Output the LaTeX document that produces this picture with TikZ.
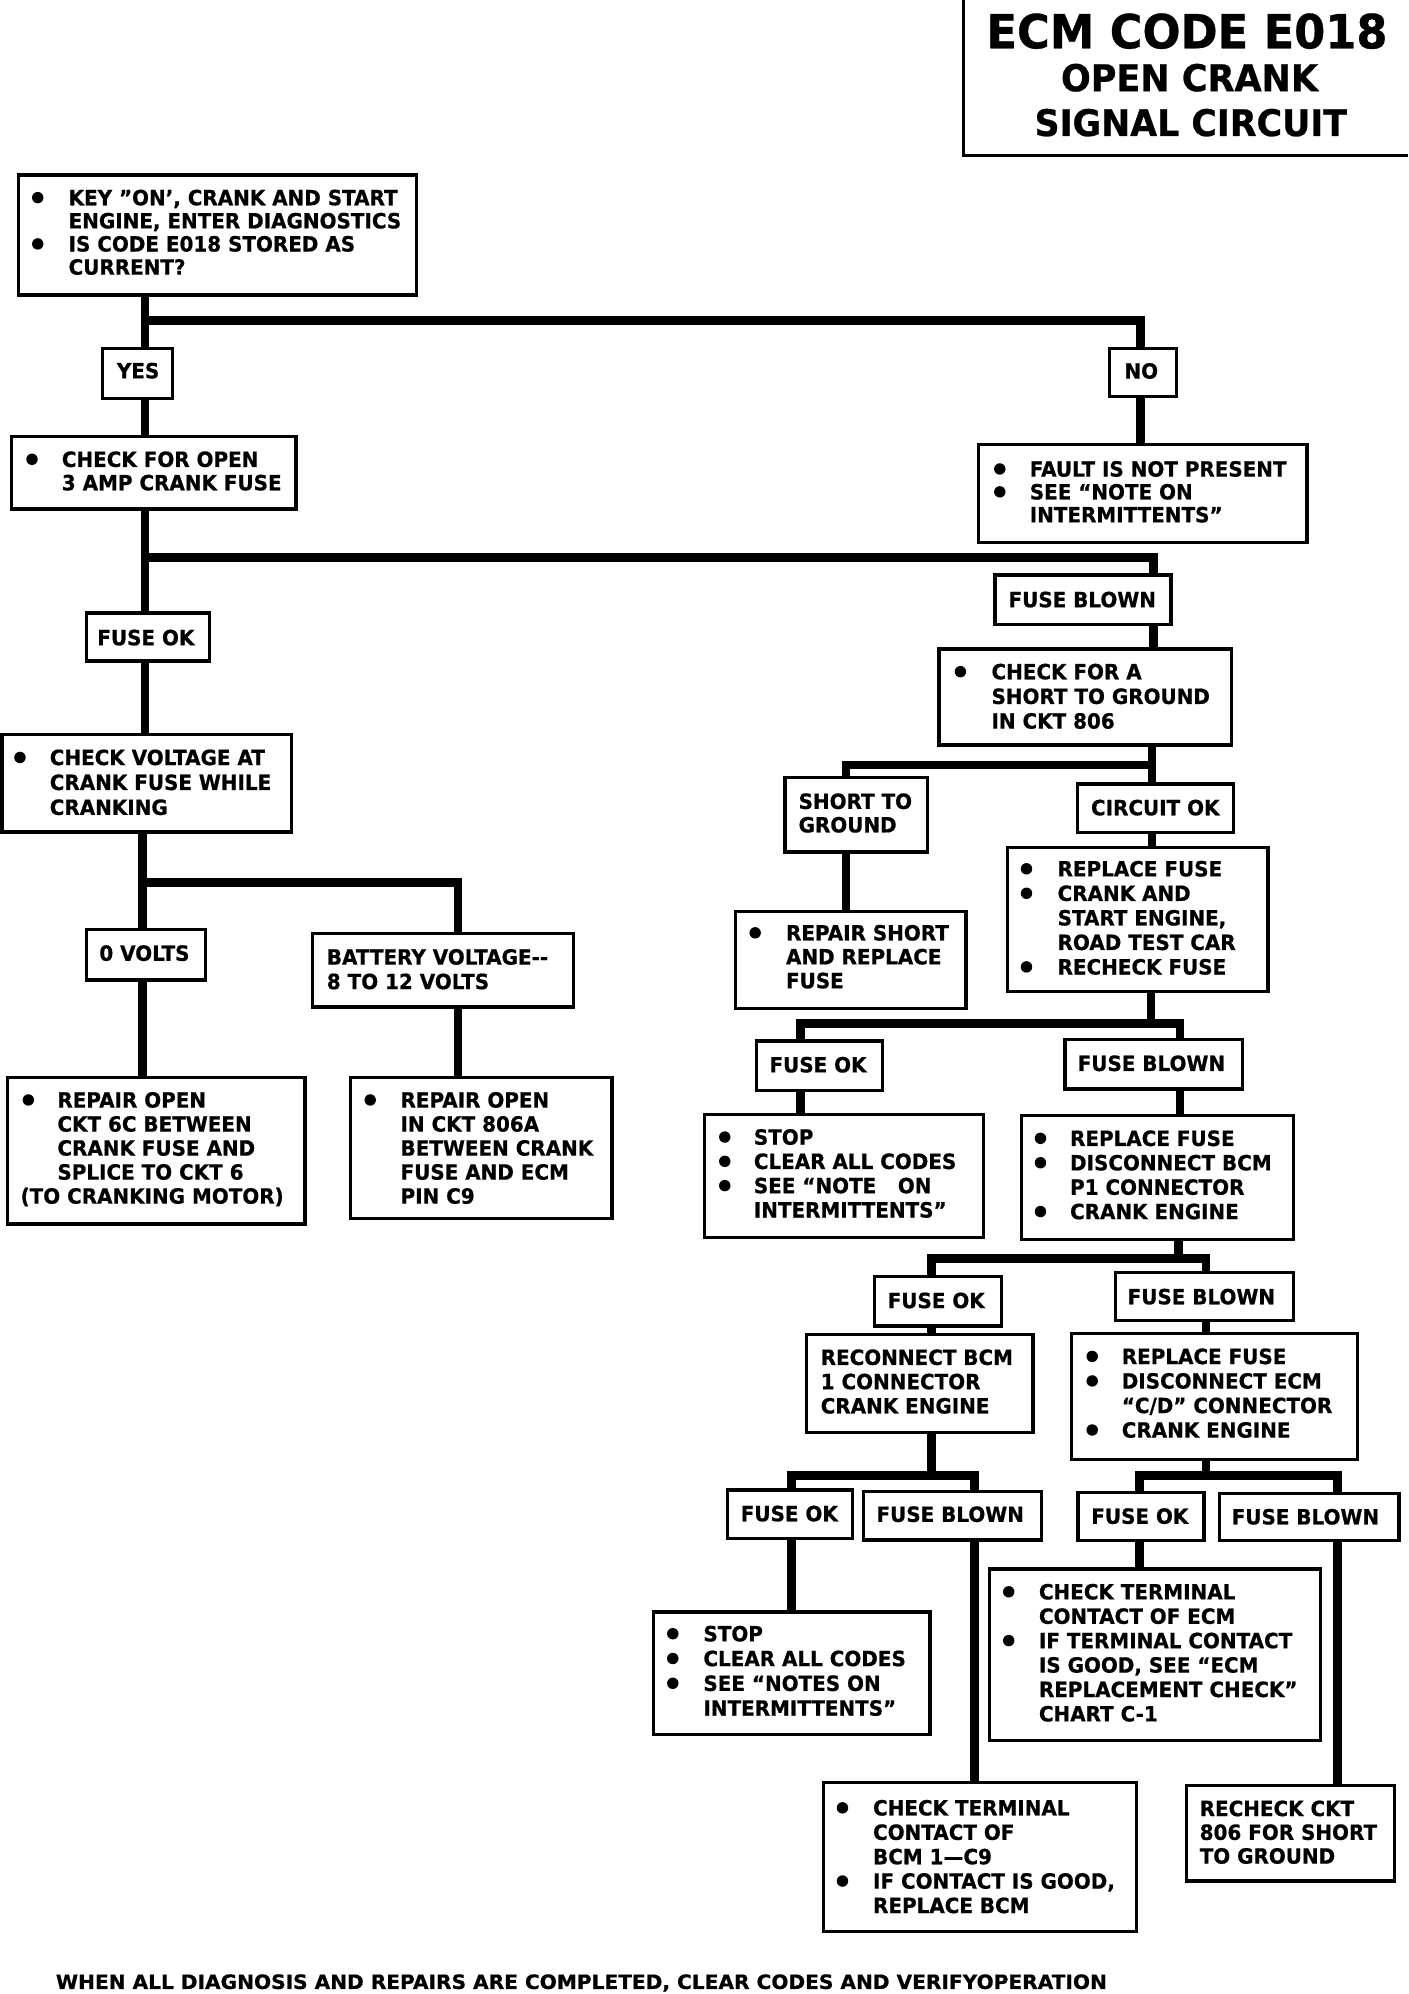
\documentclass[tikz,border=0pt]{standalone}
\usepackage{fontspec}
\usepackage{graphicx}
\setmainfont{DejaVu Sans}[FakeStretch=0.95,BoldFeatures={FakeBold=0.7}]
\usetikzlibrary{fit}
\newlength\bw
\newcommand\bulx{\makebox[\bw][l]{\tikz[baseline=0pt]\fill (4.5pt,6pt) circle (4.5pt);}}
\newcommand\indx{\hspace*{\bw}}
\newcommand\blines[3]{\setlength\bw{#1pt}\fontsize{16.5}{#2}\selectfont\begin{tabular}[t]{@{}l@{}}#3\end{tabular}}
\begin{document}
\begin{tikzpicture}[x=1pt,y=-1pt,
  frame/.style={draw,line width=2.6pt,inner sep=0pt},
  conn/.style={line width=6.8pt},
  txt/.style={inner sep=0pt,anchor=base west,font=\bfseries}]
\path[fill=white,use as bounding box] (0,0) rectangle (1108,1569);

% title
\coordinate (tt) at (758,0);
\coordinate (tc) at (758,122.3);
\coordinate (tr) at (1108,122.3);
\draw[line width=2.6pt] (tt) -- (tc) -- (tr);
\node[txt,anchor=base] (title1) at (934,38) {\fontsize{37}{40}\selectfont ECM CODE E018};
\node[txt,anchor=base] (title2) at (936,71.7) {\fontsize{29}{32}\selectfont OPEN CRANK};
\node[txt,anchor=base] (title3) at (937,107) {\fontsize{28.8}{32}\selectfont SIGNAL CIRCUIT};

% boxes
\node[frame,fit={(14.4,137.7) (327.9,232.1)}] (top) {};
\node[frame,fit={(80.8,274) (135.9,313.5)}] (yes) {};
\node[frame,fit={(873,274) (926,312)}] (no) {};
\node[frame,fit={(9.2,343.6) (232.9,400.5)}] (checkopen) {};
\node[frame,fit={(770,350) (1028.3,427)}] (fault) {};
\node[frame,fit={(67.9,482.4) (164.8,520)}] (fuseok1) {};
\node[frame,fit={(782.8,452.5) (921.4,491.2)}] (fuseblown1) {};
\node[frame,fit={(738.8,510.7) (969,586.3)}] (checkshort) {};
\node[frame,fit={(1.5,578) (229.5,654.6)}] (checkvolt) {};
\node[frame,fit={(617.6,611.6) (730,670.5)}] (shortgnd) {};
\node[frame,fit={(847.7,616.8) (970.7,654.8)}] (circuitok) {};
\node[frame,fit={(792.6,667) (997.8,780.2)}] (replfuse) {};
\node[frame,fit={(68,731.6) (161.5,771)}] (zerov) {};
\node[frame,fit={(246,734.5) (451,792.3)}] (battery) {};
\node[frame,fit={(579,717) (760,793.5)}] (repairshort) {};
\node[frame,fit={(6,848) (240,963)}] (repairsixc) {};
\node[frame,fit={(276,848) (481.5,958.6)}] (repaira) {};
\node[frame,fit={(595.5,819) (694.2,857.8)}] (fuseok2) {};
\node[frame,fit={(838,818) (977.7,856.8)}] (fuseblown2) {};
\node[frame,fit={(554.4,877) (774,973.7)}] (stopa) {};
\node[frame,fit={(803.8,877.9) (1018,975.5)}] (bcm) {};
\node[frame,fit={(688,1004.4) (788,1043.4)}] (fuseok3) {};
\node[frame,fit={(877.6,1001.5) (1018,1038.8)}] (fuseblown3) {};
\node[frame,fit={(634.6,1050.3) (812.7,1127.4)}] (reconnect) {};
\node[frame,fit={(843.2,1049) (1068.3,1148.3)}] (ecm) {};
\node[frame,fit={(572.4,1172.4) (670.8,1210.5)}] (fuseokfa) {};
\node[frame,fit={(679.2,1173.5) (819.6,1211.7)}] (fuseblownfa) {};
\node[frame,fit={(848.2,1174.3) (947.4,1212.4)}] (fuseokfb) {};
\node[frame,fit={(959.6,1175) (1100.7,1212.4)}] (fuseblownfb) {};
\node[frame,fit={(514.4,1268.5) (731.8,1365)}] (stopb) {};
\node[frame,fit={(778.4,1234.5) (1039,1369.6)}] (ecmterm) {};
\node[frame,fit={(647.8,1402.6) (894,1519.7)}] (bcmterm) {};
\node[frame,fit={(933.4,1404.8) (1097.3,1480)}] (recheck) {};

% texts
\node[txt] (top-t) at (25,161.5) {\blines{28.8}{18.2}{\bulx KEY "ON', CRANK AND START\\ \indx ENGINE, ENTER DIAGNOSTICS\\ \bulx IS CODE E018 STORED AS\\ \indx CURRENT?}};
\node[txt] (yes-t) at (91.8,297.7) {\blines{0}{18}{YES}};
\node[txt] (no-t) at (884.6,297.9) {\blines{0}{18}{NO}};
\node[txt] (checkopen-t) at (20.5,367.4) {\blines{28}{18.4}{\bulx CHECK FOR OPEN\\ \indx 3 AMP CRANK FUSE}};
\node[txt] (fault-t) at (782,375) {\blines{28.1}{18}{\bulx FAULT IS NOT PRESENT\\ \bulx SEE “NOTE ON\\ \indx INTERMITTENTS”}};
\node[txt] (fuseok1-t) at (76.4,507.7) {\blines{0}{18}{FUSE OK}};
\node[txt] (fuseblown1-t) at (793.4,477.8) {\blines{0}{18}{FUSE BLOWN}};
\node[txt] (checkshort-t) at (751,534.5) {\blines{29}{19.4}{\bulx CHECK FOR A\\ \indx SHORT TO GROUND\\ \indx IN CKT 806}};
\node[txt] (checkvolt-t) at (11,602) {\blines{28}{19.6}{\bulx CHECK VOLTAGE AT\\ \indx CRANK FUSE WHILE\\ \indx CRANKING}};
\node[txt] (shortgnd-t) at (628.2,636.5) {\blines{0}{18.5}{SHORT TO\\GROUND}};
\node[txt] (circuitok-t) at (858.3,641.5) {\blines{0}{18}{CIRCUIT OK}};
\node[txt] (replfuse-t) at (803,689.6) {\blines{29}{19.3}{\bulx REPLACE FUSE\\ \bulx CRANK AND\\ \indx START ENGINE,\\ \indx ROAD TEST CAR\\ \bulx RECHECK FUSE}};
\node[txt] (zerov-t) at (78,756) {\blines{0}{18}{0 VOLTS}};
\node[txt] (battery-t) at (257,759) {\blines{0}{19.3}{BATTERY VOLTAGE-{}-\\8 TO 12 VOLTS}};
\node[txt] (repairshort-t) at (589.5,740) {\blines{28.8}{18.8}{\bulx REPAIR SHORT\\ \indx AND REPLACE\\ \indx FUSE}};
\node[txt] (repairsixc-t) at (17.6,871.5) {\blines{27.4}{18.9}{\bulx REPAIR OPEN\\ \indx CKT 6C BETWEEN\\ \indx CRANK FUSE AND\\ \indx SPLICE TO CKT 6\\ \hspace*{-1.6pt}(TO CRANKING MOTOR)}};
\node[txt] (repaira-t) at (286.6,871.5) {\blines{28.4}{18.9}{\bulx REPAIR OPEN\\ \indx IN CKT 806A\\ \indx BETWEEN CRANK\\ \indx FUSE AND ECM\\ \indx PIN C9}};
\node[txt] (fuseok2-t) at (605.3,843.8) {\blines{0}{18}{FUSE OK}};
\node[txt] (fuseblown2-t) at (847.8,842.7) {\blines{0}{18}{FUSE BLOWN}};
\node[txt] (stopa-t) at (565.6,900.7) {\blines{27.4}{19.1}{\bulx STOP\\ \bulx CLEAR ALL CODES\\ \bulx SEE “NOTE\hspace{17pt}ON\\ \indx INTERMITTENTS”}};
\node[txt] (bcm-t) at (814,901.7) {\blines{27.8}{19.2}{\bulx REPLACE FUSE\\ \bulx DISCONNECT BCM\\ \indx P1 CONNECTOR\\ \bulx CRANK ENGINE}};
\node[txt] (fuseok3-t) at (698.3,1029.3) {\blines{0}{18}{FUSE OK}};
\node[txt] (fuseblown3-t) at (887.1,1026.3) {\blines{0}{18}{FUSE BLOWN}};
\node[txt] (reconnect-t) at (645.6,1074) {\blines{0}{19.1}{RECONNECT BCM\\1 CONNECTOR\\CRANK ENGINE}};
\node[txt] (ecm-t) at (854.7,1073.3) {\blines{27.8}{19.3}{\bulx REPLACE FUSE\\ \bulx DISCONNECT ECM\\ \indx “C/D” CONNECTOR\\ \bulx CRANK ENGINE}};
\node[txt] (fuseokfa-t) at (582.7,1197) {\blines{0}{18}{FUSE OK}};
\node[txt] (fuseblownfa-t) at (689.5,1197.5) {\blines{0}{18}{FUSE BLOWN}};
\node[txt] (fuseokfb-t) at (858.5,1199) {\blines{0}{18}{FUSE OK}};
\node[txt] (fuseblownfb-t) at (969,1199.5) {\blines{0}{18}{FUSE BLOWN}};
\node[txt] (stopb-t) at (524.7,1291.5) {\blines{28.6}{19.5}{\bulx STOP\\ \bulx CLEAR ALL CODES\\ \bulx SEE “NOTES ON\\ \indx INTERMITTENTS”}};
\node[txt] (ecmterm-t) at (789,1258.5) {\blines{28.3}{19.2}{\bulx CHECK TERMINAL\\ \indx CONTACT OF ECM\\ \bulx IF TERMINAL CONTACT\\ \indx IS GOOD, SEE “ECM\\ \indx REPLACEMENT CHECK”\\ \indx CHART C-1}};
\node[txt] (bcmterm-t) at (658.2,1428.5) {\blines{28.6}{19.2}{\bulx CHECK TERMINAL\\ \indx CONTACT OF\\ \indx BCM 1---C9\\ \bulx IF CONTACT IS GOOD,\\ \indx REPLACE BCM}};
\node[txt] (recheck-t) at (943.8,1429) {\blines{0}{18.7}{RECHECK CKT\\806 FOR SHORT\\TO GROUND}};
\node[txt] (foot) at (43.8,1565) {\resizebox{827pt}{11.5pt}{WHEN ALL DIAGNOSIS AND REPAIRS ARE COMPLETED, CLEAR CODES AND VERIFYOPERATION}};

% junction coordinates
\coordinate (b1l) at (114,252.4);   \coordinate (b1r) at (897.2,252.4);
\coordinate (b2l) at (114,438.6);   \coordinate (b2r) at (907.5,438.6);
\coordinate (b3l) at (665.8,602);   \coordinate (b3r) at (906.5,602);
\coordinate (b4l) at (112,694.5);   \coordinate (b4r) at (360.5,694.5);
\coordinate (b5p) at (905.7,805.5); \coordinate (b5l) at (630,805.5);   \coordinate (b5r) at (928.5,805.5);
\coordinate (b6p) at (927.5,990);   \coordinate (b6l) at (733,990);     \coordinate (b6r) at (949,990);
\coordinate (b7l) at (622.7,1161);  \coordinate (b7r) at (767,1161);
\coordinate (b8l) at (896.8,1161);  \coordinate (b8r) at (1052.3,1161);

% connectors
\draw[conn] (b1l |- top.south) -- (b1l);
\draw[conn] (b1l |- yes.north) -- (b1l) -- (b1r) -- (b1r |- no.north);
\draw[conn] (b1l |- yes.south) -- (b1l |- checkopen.north);
\draw[conn] (b1r |- no.south) -- (b1r |- fault.north);

\draw[conn] (b2l |- checkopen.south) -- (b2l);
\draw[conn] (b2l |- fuseok1.north) -- (b2l) -- (b2r) -- (b2r |- fuseblown1.north);
\draw[conn] (b2l |- fuseok1.south) -- (b2l |- checkvolt.north);
\draw[conn] (b2r |- fuseblown1.south) -- (b2r |- checkshort.north);

\draw[conn] (b3r |- checkshort.south) -- (b3r);
\draw[conn] (b3l |- shortgnd.north) -- (b3l) -- (b3r) -- (b3r |- circuitok.north);
\draw[conn] (b3l |- shortgnd.south) -- (b3l |- repairshort.north);
\draw[conn] (b3r |- circuitok.south) -- (b3r |- replfuse.north);

\draw[conn] (b4l |- checkvolt.south) -- (b4l);
\draw[conn] (b4l |- zerov.north) -- (b4l) -- (b4r) -- (b4r |- battery.north);
\draw[conn] (b4l |- zerov.south) -- (b4l |- repairsixc.north);
\draw[conn] (b4r |- battery.south) -- (b4r |- repaira.north);

\draw[conn] (b5p |- replfuse.south) -- (b5p);
\draw[conn] (b5l |- fuseok2.north) -- (b5l) -- (b5r) -- (b5r |- fuseblown2.north);
\draw[conn] (b5l |- fuseok2.south) -- (b5l |- stopa.north);
\draw[conn] (b5r |- fuseblown2.south) -- (b5r |- bcm.north);

\draw[conn] (b6p |- bcm.south) -- (b6p);
\draw[conn] (b6l |- fuseok3.north) -- (b6l) -- (b6r) -- (b6r |- fuseblown3.north);
\draw[conn] (b6l |- fuseok3.south) -- (b6l |- reconnect.north);
\draw[conn] (b6r |- fuseblown3.south) -- (b6r |- ecm.north);

\draw[conn] (b6l |- reconnect.south) -- (b6l |- b7l);
\draw[conn] (b7l |- fuseokfa.north) -- (b7l) -- (b7r) -- (b7r |- fuseblownfa.north);
\draw[conn] (b6r |- ecm.south) -- (b6r |- b8l);
\draw[conn] (b8l |- fuseokfb.north) -- (b8l) -- (b8r) -- (b8r |- fuseblownfb.north);

\draw[conn] (b7l |- fuseokfa.south) -- (b7l |- stopb.north);
\draw[conn] (b7r |- fuseblownfa.south) -- (b7r |- bcmterm.north);
\draw[conn] (b8l |- fuseokfb.south) -- (b8l |- ecmterm.north);
\draw[conn] (b8r |- fuseblownfb.south) -- (b8r |- recheck.north);
\end{tikzpicture}
\end{document}
